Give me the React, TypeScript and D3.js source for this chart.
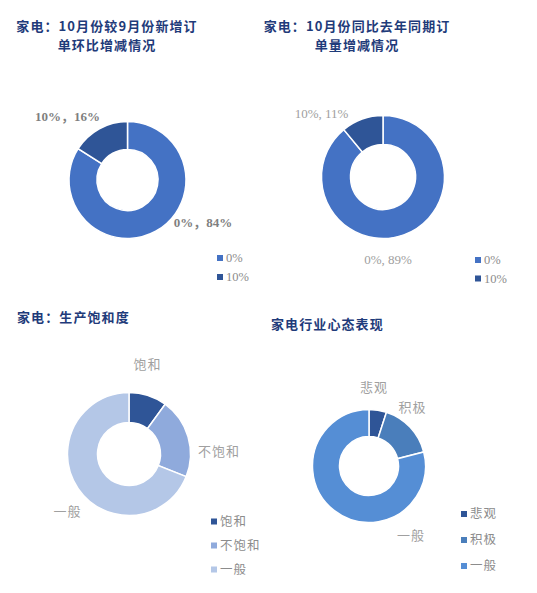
import React from "react";
import * as d3 from "d3";

// ---- data ----
const chart1Title = ["家电：10月份较9月份新增订", "单环比增减情况"];
const chart1Labels = ["0%", "10%"];
const chart1Values = [84, 16];

const chart2Title = ["家电：10月份同比去年同期订", "单量增减情况"];
const chart2Labels = ["0%", "10%"];
const chart2Values = [89, 11];

const chart3Title = ["家电：生产饱和度"];
const chart3Labels = ["饱和", "不饱和", "一般"];
const chart3Values = [10, 21, 69];

const chart4Title = ["家电行业心态表现"];
const chart4Labels = ["悲观", "积极", "一般"];
const chart4Values = [5, 16, 79];

// ---- layout / style ----
type Cfg = {
  title: string[];
  titleX: number;
  titleY: number;
  titleAnchor: "start" | "middle";
  labels: string[];
  values: number[];
  colors: string[];
  dataLabels: string[];
  cx: number;
  cy: number;
  r: number;
  ir: number;
  labelPos: [number, number][];
  labelStyle: { weight: number; color: string; family: string };
  legendX: number;
  legendY: number;
  legendStep: number;
};

const serif = "'Liberation Serif', 'Noto Sans CJK SC', serif";
const cjk = "'Noto Sans CJK SC', sans-serif";

const charts: Cfg[] = [
  {
    title: chart1Title,
    titleX: 107,
    titleY: 31,
    titleAnchor: "middle",
    labels: chart1Labels,
    values: chart1Values,
    colors: ["#4472C4", "#2F5597"],
    dataLabels: chart1Labels.map((l, i) => `${l}，${chart1Values[i]}%`),
    cx: 127.5,
    cy: 180,
    r: 58.5,
    ir: 30.5,
    labelPos: [
      [75.5, 42],
      [-60, -64],
    ],
    labelStyle: { weight: 700, color: "#7f7f7f", family: serif },
    legendX: 217,
    legendY: 258,
    legendStep: 19,
  },
  {
    title: chart2Title,
    titleX: 357,
    titleY: 31,
    titleAnchor: "middle",
    labels: chart2Labels,
    values: chart2Values,
    colors: ["#4472C4", "#2F5597"],
    dataLabels: chart2Labels.map((l, i) => `${l}, ${chart2Values[i]}%`),
    cx: 383,
    cy: 177,
    r: 61.5,
    ir: 32.5,
    labelPos: [
      [5, 82],
      [-61.5, -64],
    ],
    labelStyle: { weight: 400, color: "#a0a0a0", family: serif },
    legendX: 475,
    legendY: 260,
    legendStep: 18.5,
  },
  {
    title: chart3Title,
    titleX: 17,
    titleY: 322,
    titleAnchor: "start",
    labels: chart3Labels,
    values: chart3Values,
    colors: ["#2F5597", "#8FAADC", "#B4C7E7"],
    dataLabels: chart3Labels,
    cx: 129,
    cy: 454,
    r: 61.5,
    ir: 31.5,
    labelPos: [
      [18.5, -90],
      [90, -3],
      [-61.5, 57],
    ],
    labelStyle: { weight: 400, color: "#a0a0a0", family: cjk },
    legendX: 211,
    legendY: 521.5,
    legendStep: 24,
  },
  {
    title: chart4Title,
    titleX: 271,
    titleY: 329,
    titleAnchor: "start",
    labels: chart4Labels,
    values: chart4Values,
    colors: ["#2F5597", "#4A7EBB", "#558ED5"],
    dataLabels: chart4Labels,
    cx: 369,
    cy: 466,
    r: 56.5,
    ir: 29.5,
    labelPos: [
      [5, -79],
      [43.5, -59],
      [42, 69],
    ],
    labelStyle: { weight: 400, color: "#a0a0a0", family: cjk },
    legendX: 461,
    legendY: 514,
    legendStep: 26,
  },
];

function Donut({ c }: { c: Cfg }) {
  const pie = d3
    .pie<number>()
    .sort(null)
    .value((d) => d);
  const arcs = pie(c.values);
  const arc = d3.arc<d3.PieArcDatum<number>>().innerRadius(c.ir).outerRadius(c.r);
  const legendScale = d3
    .scalePoint<string>()
    .domain(c.labels)
    .range([c.legendY, c.legendY + c.legendStep * (c.labels.length - 1)]);
  return (
    <g>
      {c.title.map((t, i) => (
        <text
          key={i}
          x={c.titleX}
          y={c.titleY + i * 19}
          textAnchor={c.titleAnchor}
          fontFamily={cjk}
          fontWeight={700}
          fontSize={13}
          letterSpacing={1.1}
          fill="#1F3B7A"
        >
          {t}
        </text>
      ))}
      <g transform={`translate(${c.cx},${c.cy})`}>
        {arcs.map((a, i) => (
          <path key={i} d={arc(a) || ""} fill={c.colors[i]} stroke="#fff" strokeWidth={1.5} />
        ))}
        {arcs.map((a, i) => (
          <text
            key={"l" + i}
            x={c.labelPos[i][0]}
            y={c.labelPos[i][1]}
            dy="0.35em"
            textAnchor="middle"
            fontFamily={c.labelStyle.family}
            fontWeight={c.labelStyle.weight}
            fontSize={13}
            letterSpacing={c.labelStyle.family === cjk ? 1 : 0}
            fill={c.labelStyle.color}
          >
            {c.dataLabels[i]}
          </text>
        ))}
      </g>
      {c.labels.map((l, i) => {
        const y = legendScale(l) as number;
        return (
          <g key={"lg" + i}>
            <rect x={c.legendX} y={y - 3} width={6} height={6} fill={c.colors[i]} />
            <text
              x={c.legendX + 9}
              y={y}
              dy="0.35em"
              fontFamily={c.labelStyle.family === cjk ? cjk : serif}
              fontSize={12.5}
              letterSpacing={c.labelStyle.family === cjk ? 1 : 0}
              fill="#8c8c8c"
            >
              {l}
            </text>
          </g>
        );
      })}
    </g>
  );
}

export default function App() {
  return (
    <svg
      width={537}
      height={593}
      style={{ position: "absolute", left: 0, top: 0, background: "#fff" }}
    >
      {charts.map((c, i) => (
        <Donut key={i} c={c} />
      ))}
    </svg>
  );
}
